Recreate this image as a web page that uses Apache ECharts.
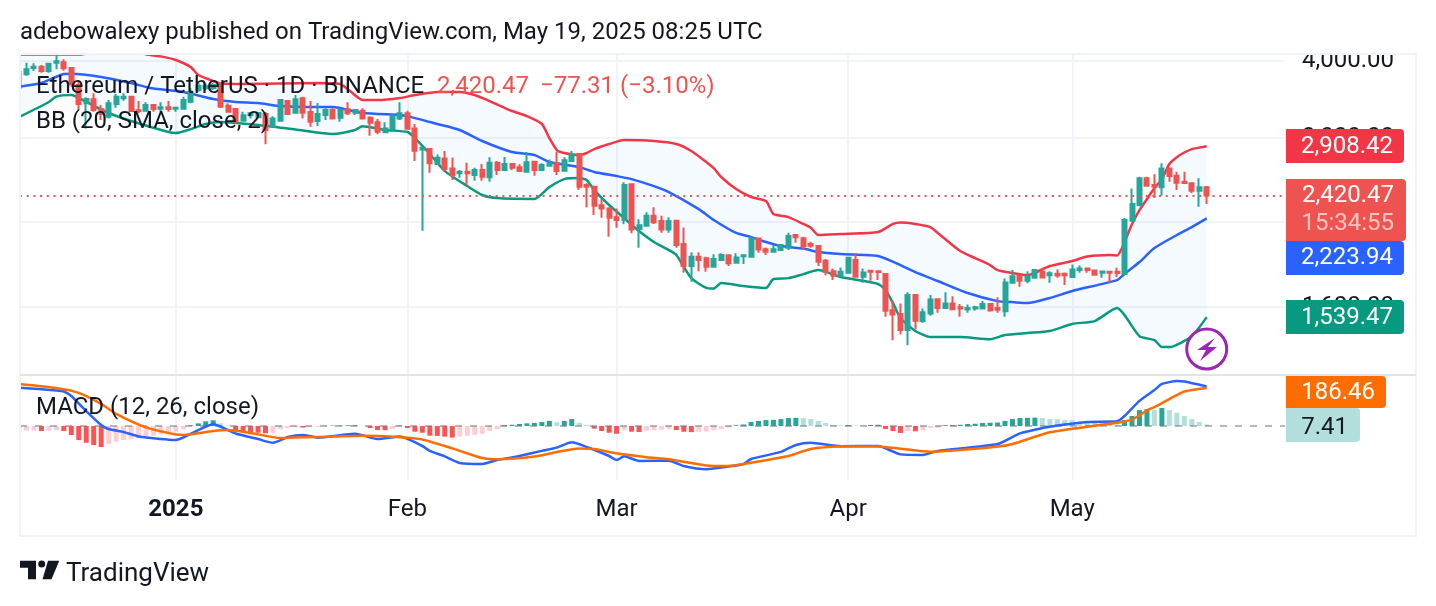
<!DOCTYPE html>
<html>
<head>
<meta charset="utf-8">
<style>html,body{margin:0;padding:0;background:#fff}#chart{width:1436px;height:606px}</style>
<script src="https://cdn.jsdelivr.net/npm/echarts@6/dist/echarts.min.js"></script>
</head>
<body>
<div id="chart"></div>
<script>
// daily candles, first row is 2024-12-11, each row: open, close, low, high
// the x axis counts days from that first row
var candles = [
[3613,3836,3586,3864],[3803,3874,3783,3970],[3892,3911,3850,3961],[3911,3850,3826,3936],[3850,3955,3826,3961],
[3970,3991,3874,4085],[3976,3888,3854,4020],[3892,3664,3631,3899],[3654,3405,3338,3722],[3413,3468,3109,3490],
[3464,3329,3308,3543],[3338,3280,3207,3392],[3246,3413,3227,3455],[3405,3498,3357,3534],[3477,3498,3446,3543],
[3498,3317,3308,3507],[3325,3313,3289,3442],[3320,3392,3308,3426],[3392,3342,3308,3400],[3346,3363,3308,3426],
[3363,3342,3308,3442],[3346,3358,3308,3358],[3346,3455,3342,3498],[3434,3564,3413,3609],[3586,3644,3564,3677],
[3610,3640,3590,3680],[3613,3654,3586,3681],[3681,3370,3353,3695],[3383,3308,3296,3413],[3342,3187,3160,3350],
[3199,3264,3195,3308],[3268,3289,3227,3296],[3240,3292,3230,3300],[3280,3090,2930,3304],[3129,3227,3124,3254],
[3199,3455,3187,3468],[3442,3280,3268,3455],[3296,3464,3296,3520],[3477,3296,3225,3498],[3304,3187,3128,3442],
[3195,3280,3137,3417],[3268,3329,3207,3350],[3329,3227,3219,3350],[3234,3329,3187,3350],[3338,3289,3268,3426],
[3296,3329,3268,3338],[3320,3227,3219,3350],[3234,3175,3026,3254],[3180,3071,3041,3219],[3064,3109,3060,3180],
[3098,3246,3090,3276],[3227,3289,3207,3426],[3289,3105,3101,3320],[3109,2861,2753,3160],[2875,2892,2124,2903],
[2878,2730,2636,2886],[2723,2786,2713,2822],[2780,2672,2655,2858],[2678,2613,2565,2790],[2630,2645,2587,2662],
[2645,2630,2518,2736],[2613,2662,2558,2686],[2662,2597,2558,2723],[2591,2736,2549,2793],[2736,2662,2613,2753],
[2662,2723,2662,2796],[2723,2685,2662,2730],[2689,2652,2652,2720],[2645,2740,2636,2847],[2746,2662,2606,2753],
[2662,2713,2652,2730],[2705,2730,2702,2770],[2730,2652,2613,2850],[2655,2760,2652,2793],[2753,2815,2746,2858],
[2826,2502,2471,2833],[2518,2502,2318,2534],[2502,2331,2252,2508],[2336,2308,2229,2390],[2308,2229,2077,2317],
[2232,2210,2147,2308],[2210,2518,2175,2543],[2525,2134,2103,2528],[2137,2168,1993,2216],[2163,2245,2155,2275],
[2245,2191,2178,2317],[2202,2134,2108,2245],[2134,2202,2108,2232],[2204,2013,1993,2210],[2021,1862,1816,2150],
[1862,1928,1756,1960],[1928,1904,1827,1960],[1916,1857,1823,1928],[1857,1911,1855,1945],[1904,1940,1902,1952],
[1938,1881,1862,1940],[1885,1923,1883,1952],[1931,1938,1876,1938],[1928,2064,1925,2076],[2064,1981,1957,2066],
[1983,1964,1940,1995],[1964,1983,1961,2013],[1976,2013,1974,2021],[1993,2082,1976,2108],[2090,2072,2031,2098],
[2066,2006,1981,2076],[2021,2008,1993,2038],[2006,1892,1862,2013],[1899,1823,1800,1911],[1827,1796,1767,1845],
[1796,1823,1790,1852],[1816,1920,1812,1927],[1904,1790,1786,1952],[1790,1818,1750,1845],[1829,1823,1762,1832],
[1827,1821,1767,1827],[1807,1576,1542,1812],[1580,1555,1413,1640],[1557,1467,1445,1620],[1467,1671,1387,1689],
[1671,1519,1472,1675],[1517,1567,1508,1590],[1561,1644,1547,1671],[1646,1593,1565,1650],[1593,1620,1591,1689],
[1620,1586,1584,1664],[1597,1590,1542,1616],[1584,1592,1565,1614],[1590,1597,1576,1606],[1590,1616,1587,1634],
[1616,1580,1570,1620],[1592,1582,1565,1657],[1574,1752,1542,1778],[1750,1793,1748,1834],[1796,1763,1724,1805],
[1763,1787,1746,1827],[1782,1834,1780,1841],[1823,1785,1780,1850],[1800,1812,1750,1827],[1809,1798,1782,1839],
[1809,1800,1735,1818],[1787,1839,1785,1873],[1834,1845,1816,1866],[1845,1834,1816,1848],[1832,1802,1800,1839],
[1816,1825,1782,1829],[1823,1816,1752,1823],[1823,1814,1787,1850],[1807,2210,1805,2226],[2204,2345,2196,2486],
[2336,2581,2328,2596],[2581,2510,2508,2596],[2518,2502,2400,2620],[2496,2678,2420,2730],[2678,2603,2549,2684],
[2606,2540,2471,2645],[2549,2537,2528,2645],[2534,2465,2444,2537],[2465,2496,2323,2581],[2496,2420.47,2346,2508]
];

// bollinger bands, read at the days where the line bends
var upperDays = [0,8,12,16,17,19,21,23,24,26,27,30,40,43,44,46,48,51,53,56,59,61,63,66,68,70,71,72,73,75,76,77,79,81,85,88,90,92,93,94,96,98,100,101,103,105,106,107,110,115,117,118,120,122,123,126,128,130,131,133,135,138,141,143,146,147,148,149,150,151,152,153,154,155,156,157,158,159];
var upperValues = [4092,4092,4162,4162,4095,4065,4010,3906,3793,3708,3674,3668,3681,3668,3600,3455,3455,3481,3520,3560,3560,3520,3442,3317,3254,3160,2999,2868,2837,2816,2837,2878,2933,2977,2966,2933,2858,2743,2681,2594,2480,2408,2372,2260,2234,2178,2147,2090,2098,2113,2178,2190,2178,2153,2106,1969,1918,1869,1834,1814,1800,1862,1897,1929,1940,1936,2036,2178,2294,2390,2489,2574,2723,2793,2842,2878,2894,2908.42];
var middleDays = [0,3,6,7,11,15,17,18,22,26,29,32,35,40,42,46,51,52,56,59,62,66,69,71,75,77,80,82,85,87,91,93,96,98,100,102,105,107,110,115,118,120,123,127,131,133,135,138,141,147,148,150,152,155,157,159];
var middleValues = [3631,3681,3807,3811,3765,3681,3627,3606,3560,3468,3430,3417,3379,3366,3366,3292,3268,3254,3160,3090,2966,2847,2816,2743,2691,2643,2603,2574,2508,2453,2302,2210,2106,2074,2036,2006,1987,1962,1947,1933,1869,1821,1761,1684,1634,1628,1622,1653,1697,1767,1808,1890,1991,2090,2153,2223.94];
var lowerDays = [0,4,5,7,9,12,15,20,21,23,25,27,32,37,42,45,46,49,52,53,55,57,60,62,64,69,71,73,75,76,77,79,81,83,85,87,88,90,92,93,94,97,100,101,103,105,107,110,115,116,117,118,120,122,126,130,132,135,138,141,144,147,148,150,152,153,154,157,159];
var lowerValues = [3242,3430,3500,3520,3430,3292,3195,3067,3056,3101,3160,3183,3148,3096,3045,3090,3135,3090,3067,2999,2826,2652,2508,2426,2398,2390,2498,2574,2584,2565,2471,2337,2226,2121,2036,1976,1940,1780,1716,1712,1748,1729,1716,1774,1780,1807,1834,1787,1742,1703,1622,1534,1462,1429,1429,1418,1440,1451,1462,1501,1517,1592,1551,1434,1413,1377,1377,1434,1539.47];

// macd pane
var macdDays = [0,5,6,7,9,11,12,14,16,20,21,24,26,29,32,34,36,38,40,45,48,51,54,55,57,59,62,64,67,70,72,74,76,79,80,81,83,87,89,92,95,97,98,102,104,106,110,115,118,121,123,131,134,137,139,143,147,148,150,152,153,155,156,159];
var macdValues = [188,174,169,147,73,5,-15,-29,-51,-67,-69,-20,8,-37,-64,-82,-54,-44,-57,-38,-64,-52,-98,-122,-149,-181,-186,-167,-147,-122,-106,-80,-103,-147,-167,-148,-171,-170,-196,-212,-199,-186,-162,-127,-93,-82,-99,-98,-139,-142,-122,-88,-36,-10,2.5,20,23,49,123,176,206,220,218,193.87];
var signalDays = [0,5,8,11,13,17,21,22,26,28,31,35,38,42,46,51,54,57,59,62,64,69,72,75,77,80,84,87,92,95,98,103,106,110,115,118,122,131,133,138,144,147,149,151,152,154,156,159];
var signalValues = [206,186,162,108,59,-7,-42,-44,-25,-20,-34,-59,-55,-52,-48,-55,-66,-98,-122,-157,-163,-150,-127,-110,-113,-134,-153,-163,-193,-196,-180,-147,-113,-101,-100,-111,-126,-101,-88,-31,1.5,16,31,76,93,132,169,186.46];
var histValues = [
-28,-23,-22.5,-24.5,-23,-19.6,-24.5,-44,-69,-82,-93,-103,-88,-77,-69,-65,-60,-52,-48,-41,
-36,-28,-16,3.4,13,23,28,13,1.5,-21,-29,-31,-33,-36,-34,-16,-10,-6,-7.5,-6,
-5,1,2,2.5,3.5,4.5,1.5,-10,-20,-20.5,-15,2.5,-10,-28,-33,-47.5,-48.5,-52,-57,-52,
-47.5,-43,-38,-24.5,-15,5,6,10,13,15,20,25,18,25,34,16,5,-13,-24.5,-33,
-38,-20,-28,-29.5,-23,-20,-18,-15,-20,-28,-30,-28.5,-27.5,-20,-15,-8,3.5,7.5,20,25,
29,30,34,39,40,39,34,25,15,5,2.5,5,2.5,1.5,5,6,-15,-24.5,-34,-24.5,
-26,-20,-10,-9,4,5,6,10,11,15,16,17,25,34,39,40,41,39,34,33.8,
29,28.9,20,18,16,13,10,7,29,49,78,83,78,88,78,65,49,34,20,7.41
];

var priceTicks = [4000, 3000, 2200, 1600];
var monthTicks = [21, 52, 80, 111, 141];
var monthNames = ['2025', 'Feb', 'Mar', 'Apr', 'May'];
var lastPrice = 2420.47;

var FONT = 'Roboto';
var INK = '#131722';
var UP = '#26a69a', DOWN = '#ef5350';

function pairs(days, values) {
    return days.map(function (d, i) { return [d, values[i]]; });
}
function money(v) {
    return v.toLocaleString('en-US', { minimumFractionDigits: 2, maximumFractionDigits: 2 });
}

var upperLine = pairs(upperDays, upperValues);
var lowerLine = pairs(lowerDays, lowerValues);

var candleData = candles.map(function (c, i) {
    return [i, c[0], c[1], c[2], c[3]];
});
var histData = histValues.map(function (v, i) {
    var prev = i > 0 ? histValues[i - 1] : v;
    var color = v >= 0 ? (v > prev ? '#26a69a' : '#b2dfdb') : (v < prev ? '#ff5252' : '#ffcdd2');
    return { value: [i, v], itemStyle: { color: color } };
});

function lineSeries(name, data, color, xi, z) {
    return {
        name: name, type: 'line', data: data, xAxisIndex: xi, yAxisIndex: xi,
        symbol: 'none', clip: true, z: z, smooth: 0.2,
        lineStyle: { color: color, width: 2.5 }
    };
}

function txt(x, y, text, size, color, align, weight) {
    return {
        type: 'text', z: 100, x: x, y: y + 2,
        style: {
            text: text, fill: color, font: (weight || 'normal') + ' ' + size + 'px ' + FONT,
            textAlign: align || 'left', textVerticalAlign: 'middle'
        }
    };
}
function box(x, y, w, h, color, r) {
    return { type: 'rect', z: 99, shape: { x: x, y: y, width: w, height: h, r: r === undefined ? [0, 4, 4, 0] : r }, style: { fill: color } };
}

var chrome = [
    // marks and price labels get cut at the edges of the pane
    { type: 'rect', z: 90, shape: { x: 0, y: 42, width: 1416, height: 12 }, style: { fill: '#fff' } },
    { type: 'rect', z: 90, shape: { x: 0, y: 42, width: 20, height: 450 }, style: { fill: '#fff' } },
    { type: 'rect', z: 91, shape: { x: 20, y: 54, width: 1396, height: 482 }, style: { fill: 'none', stroke: '#f0f3fa', lineWidth: 2 } },
    { type: 'line', z: 91, shape: { x1: 20, y1: 375, x2: 1416, y2: 375 }, style: { stroke: '#e0e3eb', lineWidth: 2 } },
    txt(20, 31, 'adebowalexy published on TradingView.com, May 19, 2025 08:25 UTC', 24, INK),
    txt(36, 85, 'Ethereum / TetherUS · 1D · BINANCE', 24, INK),
    txt(437, 85, '2,420.47', 24, DOWN),
    txt(540, 85, '−77.31', 24, DOWN),
    txt(620, 85, '(−3.10%)', 24, DOWN),
    txt(36, 120, 'BB (20, SMA, close, 2)', 24, INK),
    txt(36, 406, 'MACD (12, 26, close)', 24, INK),

    box(1286, 129, 118, 34, '#f23645'),
    txt(1393, 145, money(upperValues[upperValues.length - 1]), 24, '#fff', 'right'),
    box(1286, 179, 120, 62, '#ef5350'),
    txt(1394, 194, money(lastPrice), 24, '#fff', 'right'),
    txt(1394, 222, '15:34:55', 24, '#fbc4c2', 'right'),
    box(1286, 241, 118, 34, '#2962ff'),
    txt(1393, 256, money(middleValues[middleValues.length - 1]), 24, '#fff', 'right'),
    box(1286, 300, 118, 34, '#089981'),
    txt(1393, 316, money(lowerValues[lowerValues.length - 1]), 24, '#fff', 'right'),
    box(1286, 376, 100, 32, '#ff6d00'),
    txt(1375, 391, money(signalValues[signalValues.length - 1]), 24, '#fff', 'right'),
    box(1286, 408, 74, 34, '#b2dfdb'),
    txt(1348, 426, money(histValues[histValues.length - 1]), 24, INK, 'right'),

    // lightning badge
    { type: 'circle', z: 98, shape: { cx: 1206.7, cy: 349, r: 20 }, style: { fill: '#fff', stroke: '#9c27b0', lineWidth: 3 } },
    { type: 'polygon', z: 99, shape: { points: [[1215, 338], [1197, 350], [1206, 350], [1200, 361], [1217, 347], [1208, 347]] }, style: { fill: '#9c27b0' } },

    // TradingView logo
    { type: 'polygon', z: 99, shape: { points: [[20, 560.7], [36, 560.7], [36, 579.3], [28, 579.3], [28, 567.7], [20, 567.7]] }, style: { fill: INK } },
    { type: 'circle', z: 99, shape: { cx: 41.7, cy: 564, r: 3.5 }, style: { fill: INK } },
    { type: 'polygon', z: 99, shape: { points: [[48, 560.7], [59.3, 560.7], [51.5, 579.3], [42.5, 579.3]] }, style: { fill: INK } },
    txt(66, 572, 'TradingView', 26, INK)
];

var oChart = echarts.init(document.getElementById('chart'));

var chartopt = {
    animation: false,
    backgroundColor: '#fff',
    textStyle: { fontFamily: FONT },
    grid: [
        { left: 20, top: 55, width: 1265, height: 320 },
        { left: 20, top: 376, width: 1265, height: 104 }
    ],
    xAxis: [0, 1].map(function (i) {
        return {
            type: 'value', gridIndex: i, scale: true,
            min: 0.134, max: 169.48,
            axisLine: { show: false },
            axisTick: { show: false, customValues: monthTicks },
            splitLine: { show: true, lineStyle: { color: '#f0f3fa', width: 2 } },
            axisLabel: i === 0 ? { show: false } : {
                show: true, customValues: monthTicks, margin: 18, fontSize: 24, color: INK, fontFamily: FONT,
                hideOverlap: false,
                formatter: function (v) {
                    var name = monthNames[monthTicks.indexOf(+v)];
                    return name === '2025' ? '{b|2025}' : name;
                },
                rich: { b: { fontWeight: 'bold', fontSize: 24, color: INK, fontFamily: FONT } }
            }
        };
    }),
    yAxis: [
        {
            type: 'log', gridIndex: 0, position: 'right', min: 1241, max: 4086, logBase: 10,
            axisLine: { show: false },
            axisTick: { show: false, customValues: priceTicks },
            splitLine: { show: true, lineStyle: { color: '#f0f3fa', width: 2 } },
            axisLabel: {
                show: true, customValues: priceTicks, inside: false, margin: 17, fontSize: 24, color: INK, fontFamily: FONT,
                hideOverlap: false,
                formatter: function (v) { return money(+v); }
            }
        },
        {
            type: 'value', gridIndex: 1, position: 'right', min: -264.6, max: 245,
            axisLine: { show: false }, axisTick: { show: false }, axisLabel: { show: false }, splitLine: { show: false }
        }
    ],
    series: [
        {
            name: 'band', type: 'custom', xAxisIndex: 0, yAxisIndex: 0, z: 1, clip: true,
            encode: { x: 0, y: 1 },
            data: [[1, lowerValues[0]]],
            renderItem: function (params, api) {
                var pts = upperLine.concat(lowerLine.slice().reverse()).map(function (p) {
                    return api.coord(p);
                });
                return { type: 'polygon', shape: { points: pts }, style: { fill: 'rgba(33,150,243,0.05)' } };
            }
        },
        lineSeries('upper', upperLine, '#f23645', 0, 2),
        lineSeries('middle', pairs(middleDays, middleValues), '#2962ff', 0, 2),
        lineSeries('lower', lowerLine, '#089981', 0, 2),
        {
            name: 'ETHUSDT', type: 'candlestick', xAxisIndex: 0, yAxisIndex: 0, z: 3, clip: true,
            barWidth: 4.5,
            data: candleData,
            itemStyle: { color: UP, color0: DOWN, borderColor: UP, borderColor0: DOWN, borderWidth: 2 },
            markLine: {
                silent: true, symbol: 'none', animation: false, z: 4,
                label: { show: false },
                lineStyle: { color: DOWN, width: 2, type: [2, 4.7], opacity: 1 },
                data: [{ yAxis: lastPrice }]
            }
        },
        {
            name: 'Histogram', type: 'bar', xAxisIndex: 1, yAxisIndex: 1, barWidth: 5, z: 2,
            data: histData,
            markLine: {
                silent: true, symbol: 'none', animation: false, z: 3,
                label: { show: false },
                lineStyle: { color: '#787b86', width: 2, type: [7, 8], opacity: 0.55 },
                data: [{ yAxis: 0 }]
            }
        },
        lineSeries('MACD', pairs(macdDays, macdValues), '#2962ff', 1, 4),
        lineSeries('Signal', pairs(signalDays, signalValues), '#ff6d00', 1, 5)
    ],
    graphic: chrome
};

oChart.setOption(chartopt);
</script>
</body>
</html>
